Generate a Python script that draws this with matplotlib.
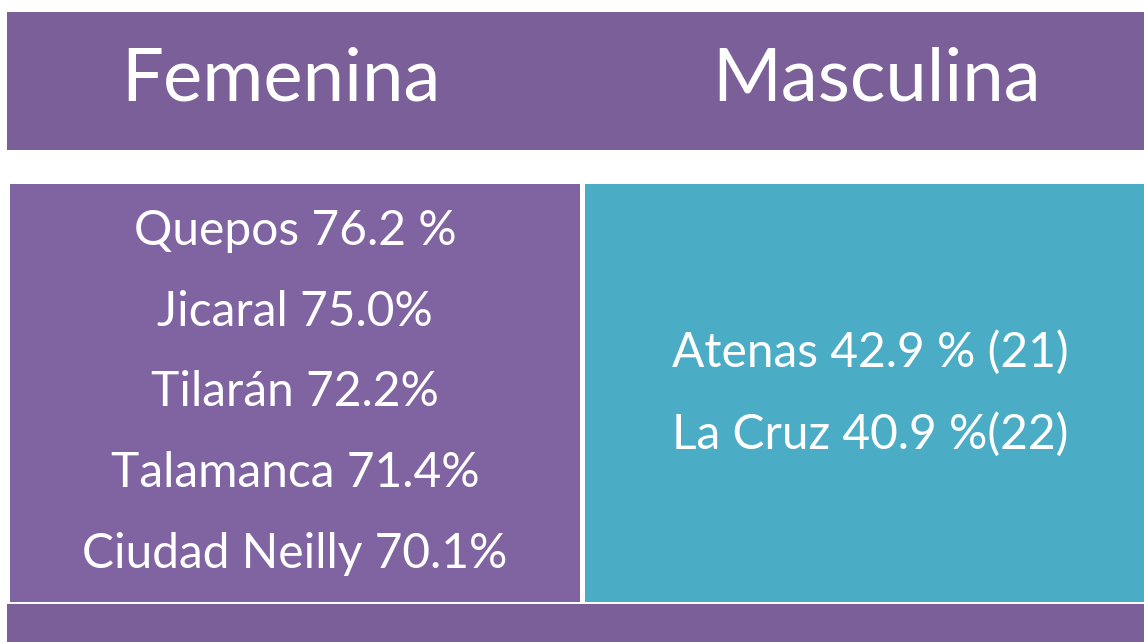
import matplotlib
matplotlib.use('Agg')
import matplotlib.pyplot as plt
from matplotlib.patches import Rectangle

headers = ['Femenina', 'Masculina']
femLines = ['Quepos 76.2 %', 'Jicaral 75.0%', 'Tilarán 72.2%',
	'Talamanca 71.4%', 'Ciudad Neilly 70.1%']
mascLines = ['Atenas 42.9 % (21)', 'La Cruz 40.9 %(22)']

dark = '#7B5F99'
purple = '#8064A2'
teal = '#4BACC6'

plt.rcParams['font.family'] = ['Lato', 'DejaVu Sans']

fig = plt.figure(figsize=(11.44, 6.42), dpi=100)
ax = fig.add_axes([0, 0, 1, 1])
ax.set_xlim(0, 1144)
ax.set_ylim(642, 0)
ax.axis('off')

# bands and boxes (pixel coords)
ax.add_patch(Rectangle((7, 12), 1137, 138, color=dark, lw=0))
ax.add_patch(Rectangle((10, 184), 570, 418, color=purple, lw=0))
ax.add_patch(Rectangle((585, 184), 559, 418, color=teal, lw=0))
ax.add_patch(Rectangle((7, 604), 1137, 38, color=dark, lw=0))

# headers
for x, h in zip([281, 877], headers):
	ax.text(x, 80, h, color='white', fontsize=53.5, ha='center', va='center')

# left column
yTop, step = 231, 80.7
for i, s in enumerate(femLines):
	ax.text(295, yTop + i * step, s, color='white', fontsize=34.5,
		ha='center', va='center')

# right column
for i, s in enumerate(mascLines):
	ax.text(870, 352 + i * 82, s, color='white', fontsize=34.5,
		ha='center', va='center')

fig.savefig('out.png', dpi=100)
